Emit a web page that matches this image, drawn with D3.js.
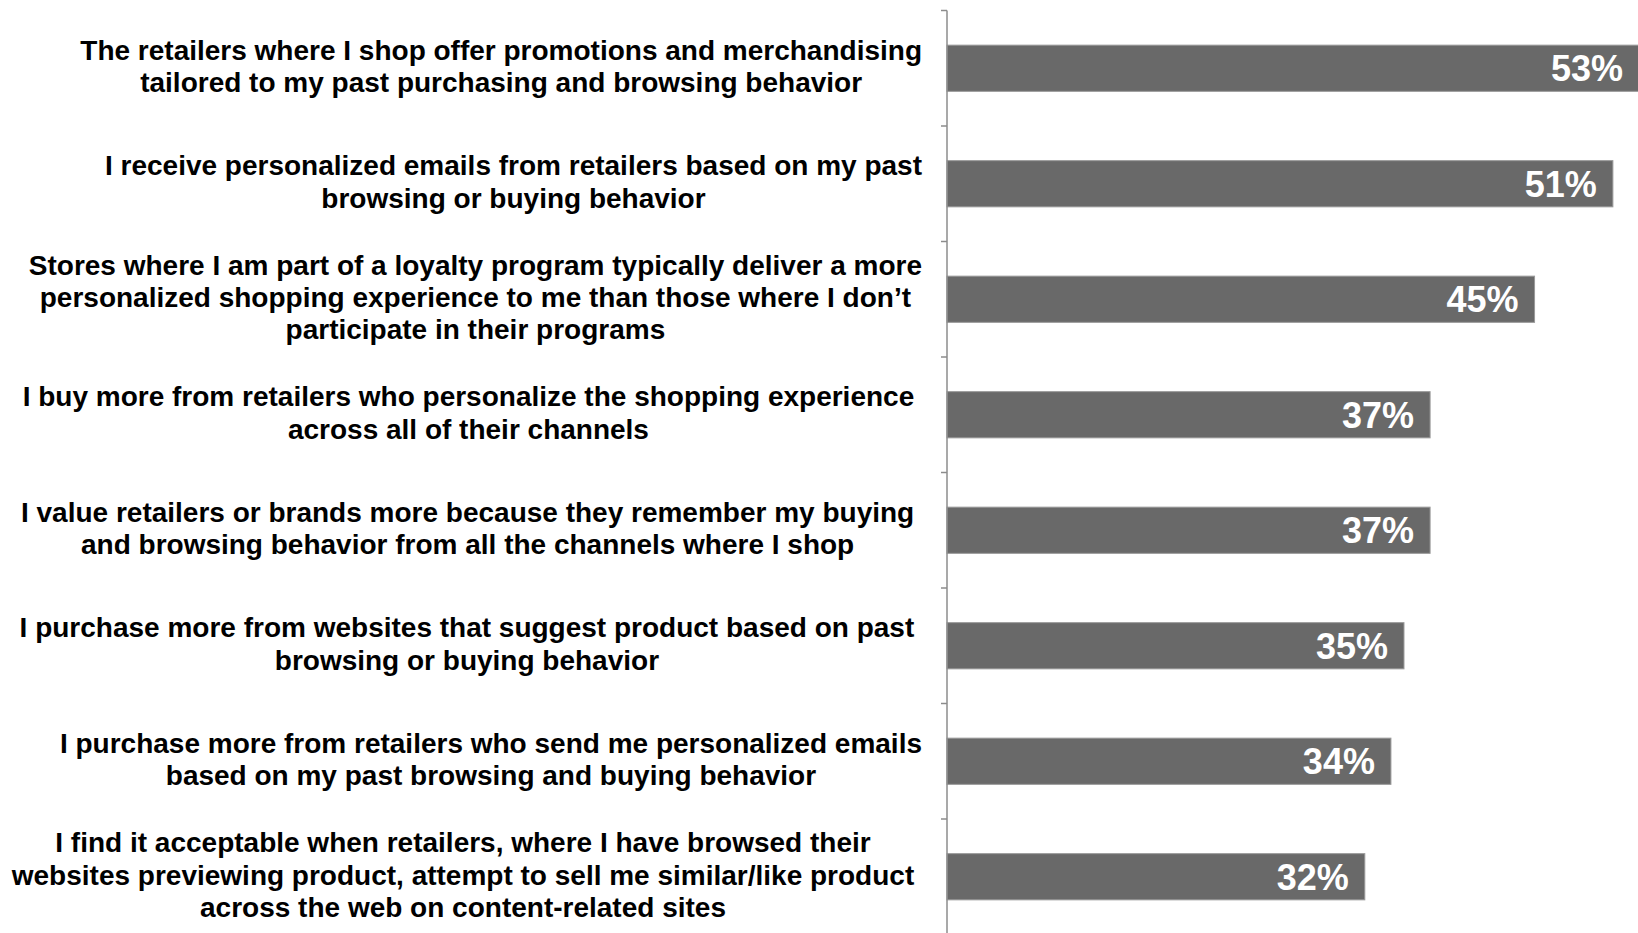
<!DOCTYPE html>
<html>
<head>
<meta charset="utf-8">
<script src="https://cdn.jsdelivr.net/npm/d3@7"></script>
<style>
  html, body { margin: 0; padding: 0; background: #ffffff; }
  svg { display: block; }
  text { font-family: "Liberation Sans", Arial, sans-serif; font-weight: bold; }
</style>
</head>
<body>
<svg id="chart" width="1638" height="933"></svg>
<script>
// Survey statements (each entry is the list of wrapped lines) and agreement shares
const statements = [
  ["The retailers where I shop offer promotions and merchandising",
   "tailored to my past purchasing and browsing behavior"],
  ["I receive personalized emails from retailers based on my past",
   "browsing or buying behavior"],
  ["Stores where I am part of a loyalty program typically deliver a more",
   "personalized shopping experience to me than those where I don\u2019t",
   "participate in their programs"],
  ["I buy more from retailers who personalize the shopping experience ",
   "across all of their channels"],
  ["I value retailers or brands more because they remember my buying ",
   "and browsing behavior from all the channels where I shop"],
  ["I purchase more from websites that suggest product based on past ",
   "browsing or buying behavior"],
  ["I purchase more from retailers who send me personalized emails",
   "based on my past browsing and buying behavior"],
  ["I find it acceptable when retailers, where I have browsed their",
   "websites previewing product, attempt to sell me similar/like product ",
   "across the web on content-related sites"]
];
const shares = [0.53, 0.51, 0.45, 0.37, 0.37, 0.35, 0.34, 0.32];
const keys = statements.map((d, i) => i);

const svg = d3.select("#chart");
const axisX = 947;
const labelFont = 28;
const lineGap = 32.4;

const x = d3.scaleLinear().domain([0, 0.53]).range([axisX, 1639]);
const y = d3.scaleBand().domain(keys).range([10.5, 934.5])
  .paddingInner(0.6).paddingOuter(0.3);
const step = y.step();
const fmt = d3.format(".0%");

// Bars
svg.append("g").selectAll("rect")
  .data(keys)
  .join("rect")
  .attr("x", x(0))
  .attr("y", i => y(i))
  .attr("width", i => x(shares[i]) - x(0))
  .attr("height", y.bandwidth())
  .attr("fill", "#696969")
  .attr("stroke", "#9a9a9a")
  .attr("stroke-width", 1);

// Value labels inside bar ends
svg.append("g").selectAll("text")
  .data(keys)
  .join("text")
  .attr("x", i => x(shares[i]) - 16)
  .attr("y", i => y(i) + y.bandwidth() / 2)
  .attr("dy", "0.36em")
  .attr("text-anchor", "end")
  .attr("fill", "#ffffff")
  .attr("font-size", 36)
  .text(i => fmt(shares[i]));

// Category axis: vertical line with ticks at band boundaries
const axis = svg.append("g").attr("stroke", "#8c8c8c").attr("stroke-width", 1.5);
axis.append("line")
  .attr("x1", axisX).attr("x2", axisX)
  .attr("y1", 10.5).attr("y2", 934.5);
const boundaries = keys.concat([keys.length]).map(i => 10.5 + i * step);
axis.selectAll("line.tick")
  .data(boundaries)
  .join("line")
  .attr("class", "tick")
  .attr("x1", axisX - 6).attr("x2", axisX)
  .attr("y1", d => d).attr("y2", d => d);

// Statement labels: centred lines, block right-aligned next to the axis
const ctx = document.createElement("canvas").getContext("2d");
ctx.font = `bold ${labelFont}px "Liberation Sans", Arial, sans-serif`;
const rightEdge = 922;

const labels = svg.append("g").attr("fill", "#000000").attr("font-size", labelFont);
keys.forEach(i => {
  const lines = statements[i];
  // widest line including any trailing space sets the block's right edge
  const widest = lines.reduce((a, b) =>
    ctx.measureText(b).width > ctx.measureText(a).width ? b : a);
  const fullW = ctx.measureText(widest).width;
  const visW = ctx.measureText(widest.trimEnd()).width;
  const cx = rightEdge - fullW + visW / 2;
  const cy = y(i) + y.bandwidth() / 2;
  const top = cy - (lines.length - 1) * lineGap / 2 - 2;
  labels.append("text")
    .attr("text-anchor", "middle")
    .selectAll("tspan")
    .data(lines)
    .join("tspan")
    .attr("x", cx)
    .attr("y", (l, j) => top + j * lineGap)
    .attr("dy", "0.35em")
    .text(l => l.trim());
});
</script>
</body>
</html>
